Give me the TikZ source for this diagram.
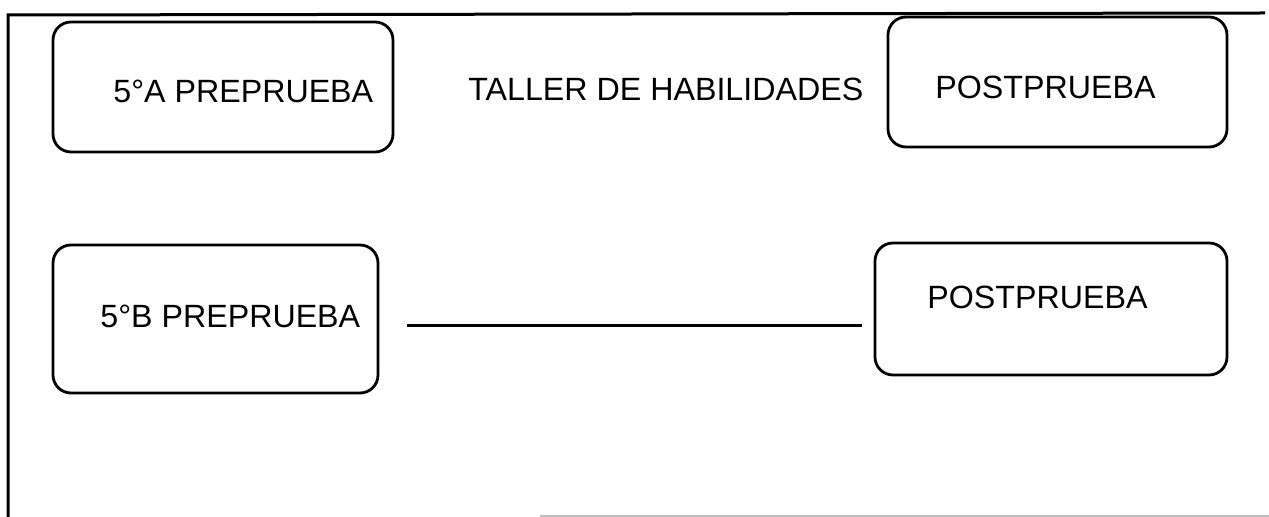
\documentclass[tikz,border=0pt]{standalone}
\usepackage{fontspec}
\setmainfont{Liberation Sans}
\tikzset{
  caja/.style={draw, rounded corners=9pt, line width=1.4pt},
  rotulo/.style={anchor=base west, inner sep=0pt, font=\fontsize{16.1}{19}\selectfont},
}
\begin{document}
\begin{tikzpicture}[x=0.5pt,y=-0.5pt]
\useasboundingbox (0,0) rectangle (1269,517);
% marco
\draw[line width=1.5pt] (8,517) -- (8,15) -- (1265,13);
\draw[line width=1pt, black!25] (540,516) -- (1269,516);
% grupo A
\node[caja, minimum width=170pt, minimum height=65pt] (preA) at (223,87) {};
\node[rotulo] (preAtxt) at (113,103) {5°A PREPRUEBA};
\node[rotulo] (taller) at (468,101) {TALLER DE HABILIDADES};
\node[caja, minimum width=169.5pt, minimum height=65pt] (postA) at (1057.5,82) {};
\node[rotulo] (postAtxt) at (935,99) {POSTPRUEBA};
% grupo B
\node[caja, minimum width=162.5pt, minimum height=74pt] (preB) at (215.5,319) {};
\node[rotulo] (preBtxt) at (100,328) {5°B PREPRUEBA};
\node[caja, minimum width=176pt, minimum height=66pt] (postB) at (1051,309) {};
\node[rotulo] (postBtxt) at (927,309) {POSTPRUEBA};
\coordinate (lnA) at (407,326);
\coordinate (lnB) at (862,326);
\draw[line width=1.5pt] (lnA) -- (lnB);
\end{tikzpicture}
\end{document}
